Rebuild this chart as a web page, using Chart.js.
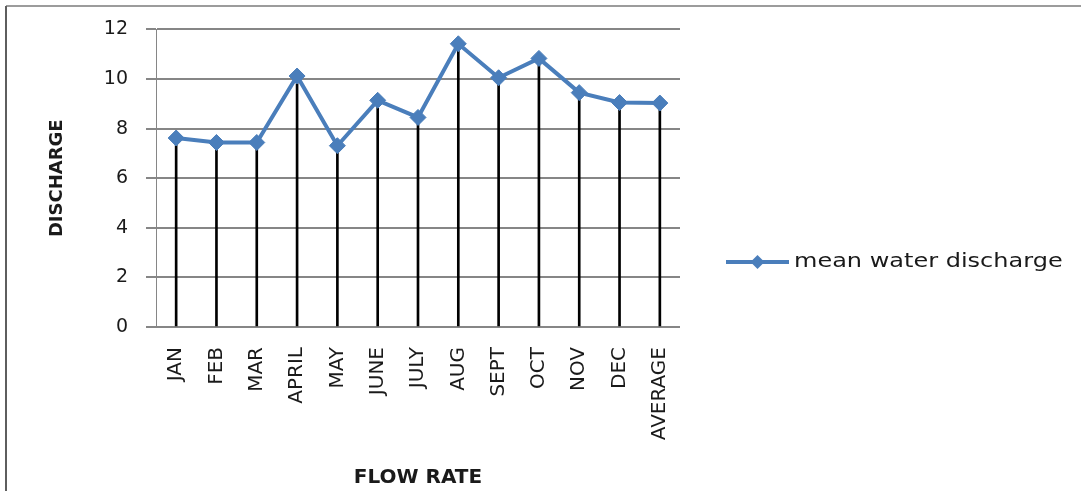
<!DOCTYPE html>
<html>
<head>
<meta charset="utf-8">
<title>Mean water discharge</title>
<script src="https://cdn.jsdelivr.net/npm/chart.js@4/dist/chart.umd.min.js"></script>
<style>
  html, body { margin: 0; padding: 0; background: #ffffff; }
  canvas { display: block; }
</style>
</head>
<body>
<canvas id="chart" width="1081" height="491"></canvas>
<script>
// Monthly mean water discharge plus the yearly average
const months = ['JAN', 'FEB', 'MAR', 'APRIL', 'MAY', 'JUNE', 'JULY', 'AUG', 'SEPT', 'OCT', 'NOV', 'DEC', 'AVERAGE'];
const meanDischarge = [7.62, 7.44, 7.44, 10.12, 7.31, 9.14, 8.45, 11.42, 10.05, 10.83, 9.45, 9.05, 9.03];
const seriesName = 'mean water discharge';
const yTicks = [0, 2, 4, 6, 8, 10, 12];
const xTitle = 'FLOW RATE';
const yTitle = 'DISCHARGE';

const BLUE = '#4A7EBB';
const GRID = '#868686';
const TEXT = '#1a1a1a';

// Thin outer frame (top and left edges)
const framePlugin = {
  id: 'frame',
  beforeDraw(chart) {
    const ctx = chart.ctx;
    ctx.save();
    ctx.fillStyle = '#ffffff';
    ctx.fillRect(0, 0, chart.width, chart.height);
    ctx.lineWidth = 2;
    ctx.strokeStyle = '#9c9c9c';
    ctx.beginPath();
    ctx.moveTo(6, 6);
    ctx.lineTo(chart.width, 6);
    ctx.stroke();
    ctx.strokeStyle = '#5e5e5e';
    ctx.beginPath();
    ctx.moveTo(6, 6);
    ctx.lineTo(6, chart.height);
    ctx.stroke();
    ctx.restore();
  }
};

// Legend entry: line sample with a diamond marker, then the series name
const lineLegendPlugin = {
  id: 'lineLegend',
  afterDraw(chart) {
    const ds = chart.data.datasets.find(d => d.type === 'line');
    const ctx = chart.ctx;
    const x0 = 726, x1 = 789, y = 262;
    ctx.save();
    ctx.strokeStyle = BLUE;
    ctx.lineWidth = 4;
    ctx.beginPath();
    ctx.moveTo(x0, y);
    ctx.lineTo(x1, y);
    ctx.stroke();
    ctx.fillStyle = BLUE;
    ctx.beginPath();
    const cx = (x0 + x1) / 2, r = 7;
    ctx.moveTo(cx, y - r);
    ctx.lineTo(cx + r, y);
    ctx.lineTo(cx, y + r);
    ctx.lineTo(cx - r, y);
    ctx.closePath();
    ctx.fill();
    ctx.fillStyle = TEXT;
    ctx.font = '20px "DejaVu Sans"';
    ctx.textBaseline = 'middle';
    ctx.textAlign = 'left';
    ctx.translate(794, y);
    ctx.scale(1.2, 1);
    ctx.fillText(ds.label, 0, 0);
    ctx.restore();
  }
};

new Chart(document.getElementById('chart'), {
  type: 'bar',
  data: {
    labels: months,
    datasets: [
      {
        type: 'line',
        label: seriesName,
        data: meanDischarge,
        borderColor: BLUE,
        backgroundColor: BLUE,
        borderWidth: 4,
        tension: 0,
        pointStyle: 'rectRot',
        pointRadius: 8,
        pointBackgroundColor: BLUE,
        pointBorderColor: BLUE,
        pointBorderWidth: 1,
        order: 0
      },
      {
        // drop lines from each point down to the axis
        type: 'bar',
        label: 'drop',
        data: meanDischarge,
        backgroundColor: '#000000',
        borderWidth: 0,
        barThickness: 2,
        order: 1
      }
    ]
  },
  options: {
    responsive: false,
    animation: false,
    devicePixelRatio: 1,
    layout: { padding: { top: 28, right: 401, bottom: 0, left: 0 } },
    plugins: {
      legend: { display: false },
      tooltip: { enabled: false }
    },
    scales: {
      x: {
        type: 'category',
        offset: true,
        grid: { display: false, drawTicks: false, tickLength: 0 },
        border: { display: false },
        ticks: {
          autoSkip: false,
          minRotation: 90,
          maxRotation: 90,
          padding: 20,
          color: TEXT,
          font: { family: 'DejaVu Sans', size: 20 }
        },
        title: {
          display: true,
          text: xTitle,
          color: TEXT,
          font: { family: 'DejaVu Sans', size: 20, weight: 'bold' },
          padding: { top: 0, bottom: 1 }
        },
        afterFit(scale) { scale.height = 164; }
      },
      y: {
        min: yTicks[0],
        max: yTicks[yTicks.length - 1],
        afterBuildTicks(scale) { scale.ticks = yTicks.map(v => ({ value: v })); },
        grid: { color: GRID, lineWidth: 2, tickLength: 10, drawTicks: true },
        border: { display: true, color: GRID, width: 1 },
        ticks: {
          padding: 18,
          color: TEXT,
          font: { family: 'DejaVu Sans', size: 19 }
        },
        title: {
          display: true,
          text: yTitle,
          color: TEXT,
          font: { family: 'DejaVu Sans', size: 18, weight: 'bold' },
          padding: { top: 47, bottom: 0 }
        },
        afterFit(scale) { scale.width = 156; }
      }
    }
  },
  plugins: [framePlugin, lineLegendPlugin]
});
</script>
</body>
</html>
